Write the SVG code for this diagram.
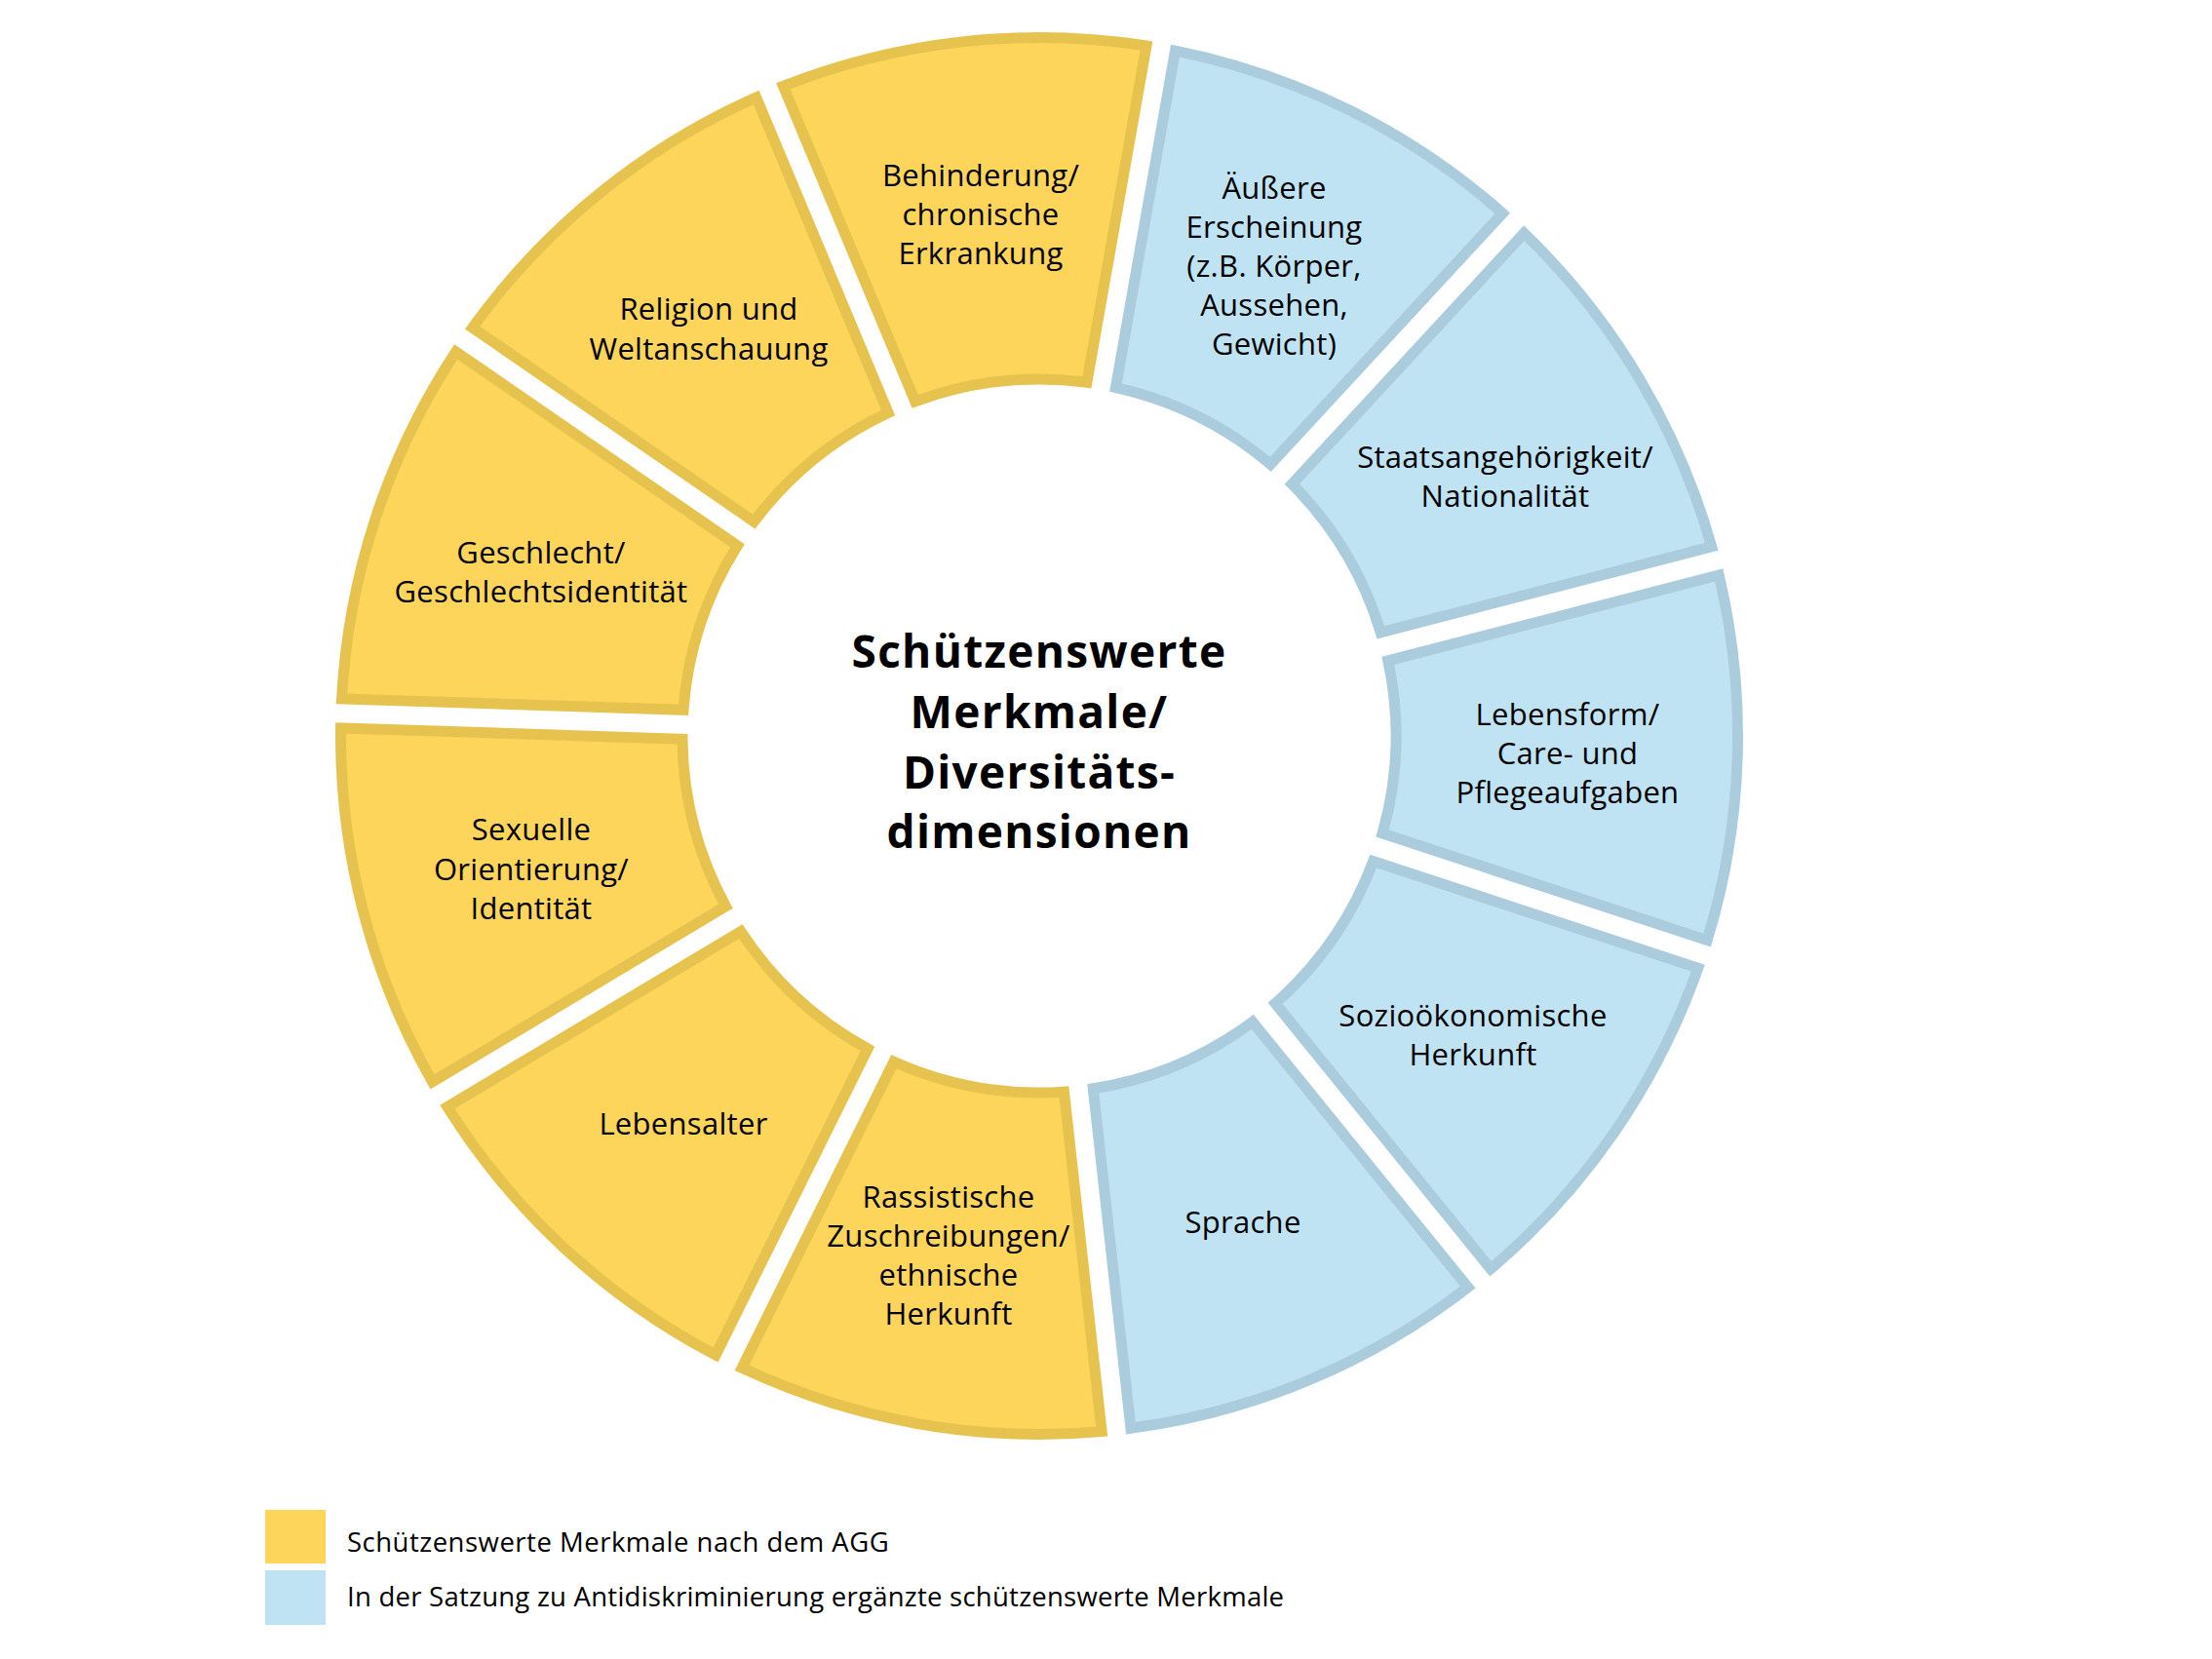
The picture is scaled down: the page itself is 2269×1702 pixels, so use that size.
<svg xmlns="http://www.w3.org/2000/svg" width="2269" height="1702" viewBox="0 0 2269 1702">
<style>
.y{fill:#FDD55B;stroke:#E6C34E;stroke-width:11;stroke-linejoin:miter}
.b{fill:#BFE3F3;stroke:#ABCCDC;stroke-width:11;stroke-linejoin:miter}
.t{font-family:"Open Sans","Noto Sans","Liberation Sans",sans-serif;font-size:31px;letter-spacing:0.3px;fill:#000;text-anchor:middle}
.h{font-family:"Open Sans","Noto Sans","Liberation Sans",sans-serif;font-size:46px;letter-spacing:1.3px;font-weight:700;fill:#000;text-anchor:middle}
.l{font-family:"Open Sans","Noto Sans","Liberation Sans",sans-serif;font-size:27.5px;letter-spacing:0.5px;fill:#000}
</style>
<rect width="2269" height="1702" fill="#fff"/>
<g id="connectors"/>
<g id="behinderung">
<path class="y" d="M803.40 88.36 A716.5 716.5 0 0 1 1175.95 46.99 L1114.90 392.29 A366 366 0 0 0 938.72 411.84 Z"/>
<text class="t" x="1006" y="191">Behinderung/</text>
<text class="t" x="1006" y="231">chronische</text>
<text class="t" x="1006" y="271">Erkrankung</text>
</g>
<g id="aeussere">
<path class="b" d="M1205.49 52.21 A716.5 716.5 0 0 1 1541.29 218.83 L1303.24 476.31 A366 366 0 0 0 1144.44 397.51 Z"/>
<text class="t" x="1307" y="204">Äußere</text>
<text class="t" x="1307" y="244">Erscheinung</text>
<text class="t" x="1307" y="284">(z.B. Körper,</text>
<text class="t" x="1307" y="324">Aussehen,</text>
<text class="t" x="1307" y="364">Gewicht)</text>
</g>
<g id="staatsangehoerigkeit">
<path class="b" d="M1563.31 239.19 A716.5 716.5 0 0 1 1755.71 560.91 L1416.25 648.81 A366 366 0 0 0 1325.26 496.67 Z"/>
<text class="t" x="1544" y="480">Staatsangehörigkeit/</text>
<text class="t" x="1544" y="520">Nationalität</text>
</g>
<g id="lebensform">
<path class="b" d="M1763.23 589.95 A716.5 716.5 0 0 1 1751.16 964.60 L1418.07 855.02 A366 366 0 0 0 1423.77 677.85 Z"/>
<text class="t" x="1608" y="744">Lebensform/</text>
<text class="t" x="1608" y="784">Care- und</text>
<text class="t" x="1608" y="824">Pflegeaufgaben</text>
</g>
<g id="soziooekonomische">
<path class="b" d="M1741.78 993.10 A716.5 716.5 0 0 1 1529.08 1301.75 L1308.10 1029.49 A366 366 0 0 0 1408.69 883.52 Z"/>
<text class="t" x="1511" y="1053">Sozioökonomische</text>
<text class="t" x="1511" y="1093">Herkunft</text>
</g>
<g id="sprache">
<path class="b" d="M1505.78 1320.65 A716.5 716.5 0 0 1 1159.96 1465.30 L1121.27 1116.80 A366 366 0 0 0 1284.80 1048.39 Z"/>
<text class="t" x="1275" y="1265">Sprache</text>
</g>
<g id="rassistische">
<path class="y" d="M1130.14 1468.62 A716.5 716.5 0 0 1 761.03 1403.35 L916.89 1089.25 A366 366 0 0 0 1091.45 1120.12 Z"/>
<text class="t" x="973" y="1239">Rassistische</text>
<text class="t" x="973" y="1279">Zuschreibungen/</text>
<text class="t" x="973" y="1319">ethnische</text>
<text class="t" x="973" y="1359">Herkunft</text>
</g>
<g id="lebensalter">
<path class="y" d="M734.15 1390.01 A716.5 716.5 0 0 1 458.92 1135.55 L759.85 955.57 A366 366 0 0 0 890.01 1075.91 Z"/>
<text class="t" x="701" y="1164">Lebensalter</text>
</g>
<g id="sexuelle">
<path class="y" d="M443.52 1109.81 A716.5 716.5 0 0 1 349.55 746.93 L700.02 758.22 A366 366 0 0 0 744.45 929.83 Z"/>
<text class="t" x="545" y="862">Sexuelle</text>
<text class="t" x="545" y="903">Orientierung/</text>
<text class="t" x="545" y="943">Identität</text>
</g>
<g id="geschlecht">
<path class="y" d="M350.51 716.95 A716.5 716.5 0 0 1 467.65 360.86 L756.38 559.84 A366 366 0 0 0 700.98 728.24 Z"/>
<text class="t" x="555" y="578">Geschlecht/</text>
<text class="t" x="555" y="618">Geschlechtsidentität</text>
</g>
<g id="religion">
<path class="y" d="M484.67 336.16 A716.5 716.5 0 0 1 775.72 99.94 L911.04 423.42 A366 366 0 0 0 773.40 535.14 Z"/>
<text class="t" x="727" y="328">Religion und</text>
<text class="t" x="727" y="369">Weltanschauung</text>
</g>
<g id="title">
<text class="h" x="1066" y="685">Schützenswerte</text>
<text class="h" x="1066" y="747">Merkmale/</text>
<text class="h" x="1066" y="809">Diversitäts-</text>
<text class="h" x="1066" y="870">dimensionen</text>
</g>
<g id="legend">
<rect x="272" y="1549" width="62" height="55" fill="#FDD55B"/>
<rect x="272" y="1611" width="62" height="56" fill="#BFE3F3"/>
<text class="l" x="356" y="1592">Schützenswerte Merkmale nach dem AGG</text>
<text class="l" x="356" y="1648" style="letter-spacing:0.25px">In der Satzung zu Antidiskriminierung ergänzte schützenswerte Merkmale</text>
</g>
</svg>
